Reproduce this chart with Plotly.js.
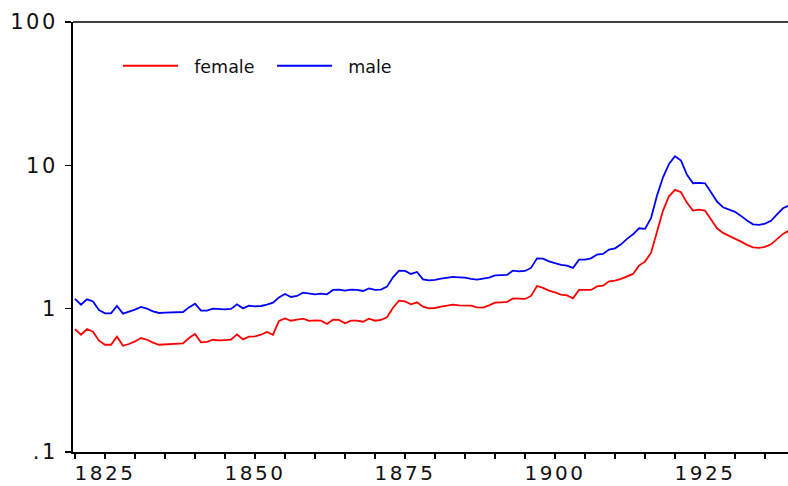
<!DOCTYPE html>
<html>
<head>
<meta charset="utf-8">
<script src="https://cdn.plot.ly/plotly-3.0.1.min.js"></script>
<style>
html,body{margin:0;padding:0;background:#fff;}
#chart{width:788px;height:486px;}
.xtick text, .ytick text{letter-spacing:2.5px;}
</style>
</head>
<body>
<div id="chart"></div>
<script>
const years = [];
for (let y = 1820; y <= 1939; y++) years.push(y);

const female = [
  0.721,0.658,0.721,0.691,0.598,0.560,0.560,0.638,0.551,0.567,
  0.591,0.624,0.607,0.579,0.560,0.563,0.570,0.572,0.572,0.624,
  0.666,0.582,0.586,0.607,0.600,0.604,0.607,0.661,0.610,0.638,
  0.641,0.658,0.688,0.658,0.821,0.856,0.824,0.838,0.852,0.821,
  0.829,0.824,0.782,0.838,0.834,0.790,0.824,0.824,0.811,0.852,
  0.824,0.834,0.870,1.016,1.137,1.124,1.072,1.107,1.033,1.005,
  1.011,1.033,1.054,1.066,1.054,1.049,1.049,1.021,1.016,1.054,
  1.101,1.107,1.114,1.180,1.169,1.169,1.227,1.440,1.395,1.336,
  1.300,1.252,1.238,1.180,1.351,1.351,1.351,1.431,1.447,1.551,
  1.569,1.612,1.681,1.747,1.997,2.129,2.449,3.378,4.835,6.084,
  6.745,6.489,5.472,4.835,4.913,4.835,4.231,3.637,3.378,3.234,
  3.097,2.937,2.785,2.680,2.654,2.697,2.812,3.067,3.324,3.505
];

const male = [
  1.169,1.066,1.161,1.124,0.979,0.927,0.927,1.044,0.923,0.948,
  0.984,1.028,1.000,0.957,0.933,0.938,0.942,0.948,0.948,1.021,
  1.084,0.968,0.968,1.000,0.989,0.989,0.995,1.072,1.005,1.049,
  1.038,1.044,1.066,1.101,1.199,1.267,1.207,1.227,1.293,1.279,
  1.259,1.273,1.259,1.351,1.357,1.336,1.357,1.351,1.329,1.386,
  1.351,1.357,1.424,1.654,1.842,1.833,1.747,1.804,1.602,1.576,
  1.586,1.620,1.646,1.665,1.654,1.646,1.612,1.594,1.620,1.646,
  1.708,1.719,1.719,1.842,1.822,1.833,1.924,2.245,2.234,2.140,
  2.085,2.020,1.997,1.924,2.198,2.198,2.245,2.383,2.410,2.582,
  2.637,2.812,3.067,3.303,3.637,3.602,4.272,6.153,8.257,10.24,
  11.57,10.80,8.583,7.499,7.547,7.499,6.489,5.587,5.098,4.913,
  4.735,4.440,4.118,3.879,3.842,3.923,4.098,4.555,5.017,5.240
];

const yTickVals = [0.1, 1, 10, 100];
const yTickText = ['.1', '1', '10', '100'];

const seriesNames = ['female', 'male'];
const seriesColors = ['#ff0000', '#0000ff'];

const pad = '\u00a0\u00a0';
const traces = [
  {x: years, y: female, name: pad + seriesNames[0], type: 'scatter', mode: 'lines',
   line: {color: seriesColors[0], width: 1.8}},
  {x: years, y: male, name: pad + seriesNames[1], type: 'scatter', mode: 'lines',
   line: {color: seriesColors[1], width: 1.8}}
];

const fontFam = 'DejaVu Sans, Liberation Sans, Arial, sans-serif';

const layout = {
  width: 788, height: 486,
  margin: {l: 73, r: 0, t: 22, b: 34, pad: 0},
  paper_bgcolor: '#ffffff', plot_bgcolor: '#ffffff',
  showlegend: true,
  legend: {
    orientation: 'h', x: 0.063, xanchor: 'left', y: 0.898, yanchor: 'middle',
    font: {family: fontFam, size: 17.5, color: '#111'},
    itemwidth: 55, bgcolor: 'rgba(0,0,0,0)', borderwidth: 0,
    entrywidth: 84, entrywidthmode: 'pixels', traceorder: 'normal'
  },
  xaxis: {
    range: [1819.67, 1938.83], showgrid: false, zeroline: false,
    showline: true, linecolor: '#000', linewidth: 2,
    ticks: 'outside', ticklen: 5, tickwidth: 1.5, tickcolor: '#000',
    tick0: 1825, dtick: 25,
    minor: {dtick: 5, tick0: 1820, ticks: 'outside', ticklen: 5, tickwidth: 1.2, tickcolor: '#000', showgrid: false},
    tickfont: {family: fontFam, size: 20, color: '#111'},
    ticklabelstandoff: -3
  },
  yaxis: {
    type: 'log', range: [-1, 2], showgrid: false, zeroline: false,
    showline: true, linecolor: '#000', linewidth: 2,
    ticks: 'outside', ticklen: 6, tickwidth: 1.5, tickcolor: '#000',
    tickmode: 'array', tickvals: yTickVals, ticktext: yTickText,
    tickfont: {family: fontFam, size: 21, color: '#111'},
    ticklabelstandoff: 3
  },
  shapes: [
    {type: 'line', xref: 'paper', yref: 'paper', x0: 0, x1: 1, y0: 1, y1: 1,
     line: {color: '#000', width: 1.5}}
  ]
};

Plotly.newPlot('chart', traces, layout, {displayModeBar: false, staticPlot: true});
</script>
</body>
</html>
